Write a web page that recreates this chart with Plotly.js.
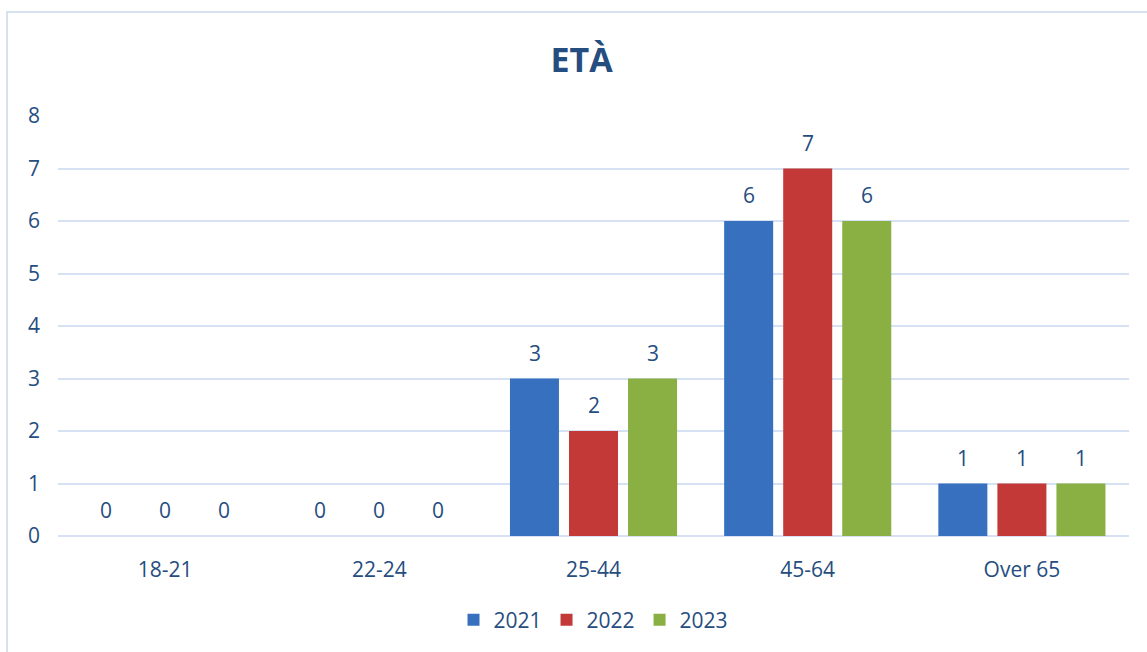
<!DOCTYPE html>
<html>
<head>
<meta charset="utf-8">
<script src="https://cdn.plot.ly/plotly-3.0.1.min.js"></script>
<style>
  html, body { margin: 0; padding: 0; background: #fff; }
  #chart { position: absolute; left: 0; top: 0; width: 1147px; height: 652px; }
  #frame { position: absolute; left: 6px; top: 11px; width: 1200px; height: 700px;
           border-left: 2px solid #D7E2F1; border-top: 2px solid #D7E2F1; pointer-events: none; }
</style>
</head>
<body>
<div id="chart"></div>
<div id="frame"></div>
<script>
const categories = ['18-21', '22-24', '25-44', '45-64', 'Over 65'];
const seriesNames = ['2021', '2022', '2023'];
const values2021 = [0, 0, 3, 6, 1];
const values2022 = [0, 0, 2, 7, 1];
const values2023 = [0, 0, 3, 6, 1];
const yTicks = [0, 1, 2, 3, 4, 5, 6, 7, 8];

const seriesValues = [values2021, values2022, values2023];
const colors = ['#3670BE', '#C23938', '#8AAF42'];
const textColor = '#264D80';
const fontFamily = 'Open Sans, sans-serif';

const traces = seriesValues.map((vals, i) => ({
  type: 'bar',
  name: seriesNames[i],
  x: categories,
  y: vals,
  marker: { color: colors[i], line: { width: 0 } },
  hoverinfo: 'x+y+name'
}));

const shiftPx = 59;
const annotations = [];
seriesValues.forEach((vals, i) => {
  vals.forEach((v, j) => {
    annotations.push({
      x: categories[j], y: v, xref: 'x', yref: 'y',
      text: String(v), showarrow: false,
      xshift: (i - 1) * shiftPx, yshift: 10, yanchor: 'bottom',
      font: { family: fontFamily, size: 21, color: textColor }
    });
  });
});

const layout = {
  width: 1147, height: 652,
  margin: { l: 58, r: 18, t: 116, b: 113 },
  paper_bgcolor: '#ffffff', plot_bgcolor: '#ffffff',
  font: { family: fontFamily, size: 21, color: textColor },
  title: { text: '<b>ETÀ</b>', x: 0.507, xanchor: 'center', y: 0.908, yanchor: 'middle',
           font: { family: fontFamily, size: 34, color: textColor } },
  barmode: 'group', bargap: 0.173, bargroupgap: 0.17,
  xaxis: { type: 'category', showgrid: false, zeroline: false, showline: false, ticks: '',
           ticklabelstandoff: 19, tickfont: { size: 21, color: textColor } },
  yaxis: { range: [0, 8], tickvals: yTicks, showgrid: true, gridcolor: '#D6E2F3', gridwidth: 2,
           zeroline: true, zerolinecolor: '#D6E2F3', zerolinewidth: 2, showline: false, ticks: '',
           ticklabelstandoff: 17, tickfont: { size: 21, color: textColor } },
  showlegend: true,
  legend: { orientation: 'h', x: 0.5, xanchor: 'center', y: -0.2, yanchor: 'middle',
            font: { size: 21, color: textColor }, itemwidth: 30, tracegroupgap: 0 },
  annotations: annotations
};

Plotly.newPlot('chart', traces, layout, { displayModeBar: false, staticPlot: true });
</script>
</body>
</html>
